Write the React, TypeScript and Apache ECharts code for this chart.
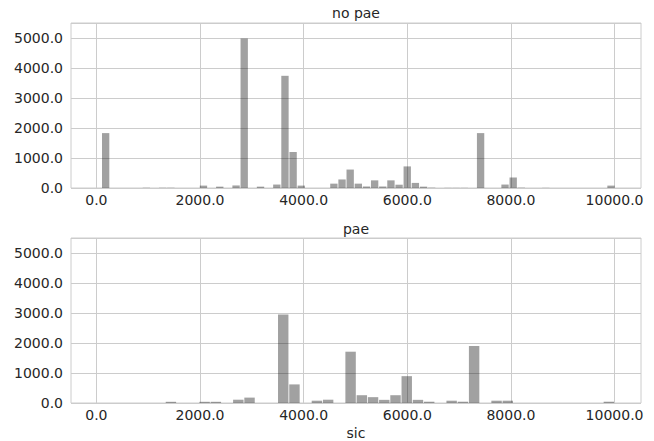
import React, { useEffect, useRef } from "react";
import * as echarts from "echarts";

// Histogram parameters
const TOP_TITLE = "no pae";
const BOTTOM_TITLE = "pae";
const X_LABEL = "sic";

const TOP_BIN_START = 100;
const TOP_BIN_WIDTH = 157.3;
const TOP_COUNTS = [
  1830, 0, 0, 0, 0, 8, 0, 8, 8, 0,
  0, 0, 80, 0, 45, 0, 85, 4980, 0, 45,
  0, 115, 3740, 1200, 80, 0, 0, 0, 145, 285,
  615, 145, 50, 255, 50, 255, 110, 720, 170, 45,
  10, 0, 5, 5, 5, 0, 1830, 0, 0, 115,
  350, 10, 0, 0, 5, 0, 0, 0, 0, 0,
  0, 0, 80,
];

const BOTTOM_BIN_START = 30;
const BOTTOM_BIN_WIDTH = 216.7;
const BOTTOM_COUNTS = [
  0, 0, 0, 0, 0, 0, 40, 0, 0, 40,
  40, 0, 110, 180, 0, 0, 2950, 620, 0, 77,
  110, 0, 1710, 260, 195, 105, 260, 895, 105, 43,
  0, 77, 43, 1900, 0, 77, 77, 0, 0, 0,
  0, 0, 0, 0, 0, 43,
];

const X_TICKS = [0, 2000, 4000, 6000, 8000, 10000];
const X_MIN = -490;
const X_MAX = 10510;
const Y_MAX = 5500;
const Y_INTERVAL = 1000;

const TEXT_COLOR = "#262626";
const GRID_COLOR = "#cccccc";
const BAR_COLOR = "rgba(0,0,0,0.37)";
const FONT = "DejaVu Sans";
const FONT_SIZE = 14;

function bins(start: number, width: number, counts: number[]) {
  return counts.map((c, i) => [start + i * width, start + (i + 1) * width, c]);
}

export default function App() {
  const ref = useRef<HTMLDivElement>(null);
  useEffect(() => {
    if (!ref.current) return;
    const chart = echarts.init(ref.current, null, { renderer: "svg" });

    const xAxis = (gridIndex: number) => ({
      type: "value",
      gridIndex,
      min: X_MIN,
      max: X_MAX,
      axisLine: { show: false },
      axisTick: { show: false, customValues: X_TICKS },
      axisLabel: {
        customValues: X_TICKS,
        formatter: (v: number) => v.toFixed(1),
        color: TEXT_COLOR,
        fontSize: FONT_SIZE,
        fontFamily: FONT,
        margin: 5,
      },
      splitLine: { show: true, lineStyle: { color: GRID_COLOR, width: 1 } },
    });
    const yAxis = (gridIndex: number) => ({
      type: "value",
      gridIndex,
      min: 0,
      max: Y_MAX,
      interval: Y_INTERVAL,
      axisLine: { show: false },
      axisTick: { show: false },
      axisLabel: {
        showMaxLabel: false,
        formatter: (v: number) => (v > 5000 ? "" : v.toFixed(1)),
        color: TEXT_COLOR,
        fontSize: FONT_SIZE,
        fontFamily: FONT,
        margin: 8,
      },
      splitLine: { show: true, lineStyle: { color: GRID_COLOR, width: 1 } },
    });

    const renderItem = (params: any, api: any) => {
      const x0 = api.value(0);
      const x1 = api.value(1);
      const y = api.value(2);
      if (!y) return null;
      const p0 = api.coord([x0, y]);
      const p1 = api.coord([x1, 0]);
      return {
        type: "rect",
        shape: {
          x: p0[0] + 0.4,
          y: p0[1],
          width: p1[0] - p0[0] - 0.8,
          height: p1[1] - p0[1],
        },
        style: { fill: BAR_COLOR },
      };
    };

    const textStyle = (text: string, x: number, y: number) => ({
      type: "text",
      x,
      y,
      style: {
        text,
        align: "center",
        verticalAlign: "middle",
        fontSize: FONT_SIZE,
        fontFamily: FONT,
        fill: TEXT_COLOR,
      },
    });

    chart.setOption({
      animation: false,
      backgroundColor: "#ffffff",
      grid: [
        { left: 71, top: 23, width: 570, height: 165, show: true, borderColor: GRID_COLOR, borderWidth: 1, backgroundColor: "transparent" },
        { left: 71, top: 238, width: 570, height: 165, show: true, borderColor: GRID_COLOR, borderWidth: 1, backgroundColor: "transparent" },
      ],
      xAxis: [xAxis(0), xAxis(1)],
      yAxis: [yAxis(0), yAxis(1)],
      series: [
        {
          type: "custom",
          xAxisIndex: 0,
          yAxisIndex: 0,
          renderItem,
          encode: { x: [0, 1], y: 2 },
          data: bins(TOP_BIN_START, TOP_BIN_WIDTH, TOP_COUNTS),
        },
        {
          type: "custom",
          xAxisIndex: 1,
          yAxisIndex: 1,
          renderItem,
          encode: { x: [0, 1], y: 2 },
          data: bins(BOTTOM_BIN_START, BOTTOM_BIN_WIDTH, BOTTOM_COUNTS),
        },
      ],
      graphic: [
        textStyle(TOP_TITLE, 356, 13),
        textStyle(BOTTOM_TITLE, 356, 229),
        textStyle(X_LABEL, 356, 433),
      ],
    });
    return () => chart.dispose();
  }, []);
  return (
    <div
      ref={ref}
      style={{ position: "fixed", left: 0, top: 0, width: 654, height: 441 }}
    />
  );
}
